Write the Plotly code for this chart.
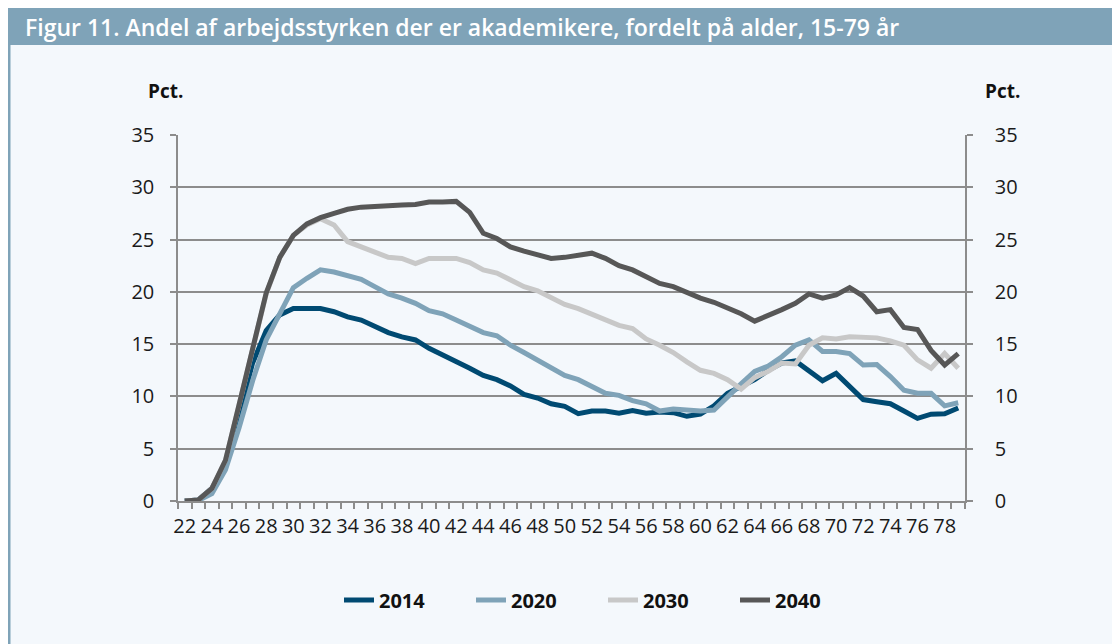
import plotly.graph_objects as go

ages = list(range(22, 80))

v2014 = [0.0, 0.1, 1.2, 3.5, 8.2, 13.2, 16.3, 17.8, 18.4, 18.4, 18.4, 18.1, 17.6, 17.3, 16.7, 16.1,
         15.7, 15.4, 14.6, 14.0, 13.4, 12.7, 12.0, 11.6, 11.0, 10.2, 9.85, 9.3, 9.05, 8.35, 8.6, 8.6,
         8.4, 8.65, 8.4, 8.5, 8.45, 8.1, 8.3, 9.1, 10.3, 11.0, 11.6, 12.5, 13.2, 13.4, 12.5, 11.5,
         12.2, 11.0, 9.7, 9.5, 9.3, 8.6, 7.9, 8.3, 8.35, 8.9]

v2020 = [0.0, 0.05, 0.7, 3.0, 7.0, 11.5, 15.4, 17.9, 20.4, 21.3, 22.1, 21.9, 21.6, 21.2, 20.5, 19.8,
         19.4, 18.9, 18.2, 17.9, 17.3, 16.7, 16.1, 15.8, 14.9, 14.2, 13.5, 12.7, 12.0, 11.6, 11.0, 10.3,
         10.1, 9.6, 9.3, 8.6, 8.8, 8.7, 8.6, 8.7, 10.0, 11.2, 12.4, 12.9, 13.8, 14.9, 15.4, 14.3,
         14.3, 14.1, 13.0, 13.05, 11.9, 10.6, 10.3, 10.3, 9.1, 9.4]

v2030 = [0.0, 0.1, 1.2, 3.9, 9.2, 14.6, 19.8, 23.3, 25.4, 26.4, 27.0, 26.4, 24.8, 24.3, 23.8, 23.3,
         23.2, 22.7, 23.2, 23.2, 23.2, 22.8, 22.1, 21.8, 21.1, 20.5, 20.1, 19.5, 18.8, 18.4, 17.9, 17.3,
         16.8, 16.5, 15.5, 14.9, 14.2, 13.3, 12.5, 12.2, 11.6, 10.7, 11.8, 12.4, 13.2, 13.1, 14.9, 15.6,
         15.5, 15.7, 15.7, 15.6, 15.3, 14.9, 13.5, 12.7, 14.1, 12.7]

v2040 = [0.0, 0.1, 1.2, 3.9, 9.2, 14.8, 19.9, 23.3, 25.4, 26.5, 27.1, 27.5, 27.9, 28.1, 28.2, 28.2,
         28.3, 28.35, 28.6, 28.6, 28.65, 27.6, 25.6, 25.1, 24.3, 23.9, 23.6, 23.2, 23.3, 23.5, 23.7, 23.2,
         22.5, 22.1, 21.4, 20.8, 20.5, 19.9, 19.4, 19.0, 18.5, 17.9, 17.2, 17.7, 18.3, 18.9, 19.8, 19.4,
         19.7, 20.4, 19.6, 18.1, 18.3, 16.6, 16.4, 14.4, 13.0, 14.1]

series_names = ["2014", "2020", "2030", "2040"]
series_values = [v2014, v2020, v2030, v2040]
series_colors = ["#004a72", "#7fa3b8", "#c8c8c8", "#575757"]

x_tick_labels = [str(a) for a in ages if a % 2 == 0]
y_ticks = [0, 5, 10, 15, 20, 25, 30, 35]

title_text = "Figur 11. Andel af arbejdsstyrken der er akademikere, fordelt på alder, 15-79 år"

# the page body adds an 8 px margin, so the figure is laid out 8 px smaller
W, H = 1112, 636
L, R, T, B = 170, 957, 127, 493  # plot area pixel box (figure coordinates)


def px(x):
    return (x - L) / (R - L)


def py(y):
    return (B - y) / (B - T)


fig = go.Figure()
for name, vals, col in zip(series_names, series_values, series_colors):
    fig.add_trace(go.Scatter(x=ages, y=vals, mode="lines", name=name,
                             line=dict(color=col, width=5), yaxis="y"))
# invisible trace for the right axis
fig.add_trace(go.Scatter(x=ages, y=v2014, mode="lines", yaxis="y2", showlegend=False,
                         line=dict(width=0), hoverinfo="skip", opacity=0))

font_main = "Open Sans"
grid_col = "#8c8c8c"
txt_col = "#1a1a1a"

fig.update_layout(
    width=W, height=H,
    margin=dict(l=L, r=W - R, t=T, b=H - B, pad=0),
    paper_bgcolor="#f4f8fc",
    plot_bgcolor="#f4f8fc",
    font=dict(family=font_main, size=20, color=txt_col),
    showlegend=True,
    legend=dict(orientation="h", x=px(331), xanchor="left", y=py(592), yanchor="middle",
                font=dict(family=font_main, size=20, color="#111111", weight="bold"),
                bgcolor="rgba(0,0,0,0)", traceorder="normal", itemwidth=30,
                entrywidth=87, entrywidthmode="pixels"),
    xaxis=dict(
        range=[21.5, 79.5], tickmode="array",
        tickvals=[a for a in ages if a % 2 == 0], ticktext=x_tick_labels,
        ticks="", showgrid=False, zeroline=False,
        showline=True, linecolor=grid_col, linewidth=1.5,
        ticklabelstandoff=6,
        tickfont=dict(family=font_main, size=20, color=txt_col),
        minor=dict(ticks="outside", ticklen=6, tickcolor=grid_col, tickwidth=1.5,
                   tick0=21.5, dtick=1, showgrid=False),
    ),
    yaxis=dict(
        range=[0, 35], tickmode="array", tickvals=y_ticks,
        ticks="outside", ticklen=6, tickcolor=grid_col, tickwidth=1.5,
        showgrid=True, gridcolor=grid_col, gridwidth=1.5,
        zeroline=False, showline=True, linecolor=grid_col, linewidth=1.5,
        ticklabelstandoff=12,
        tickfont=dict(family=font_main, size=20, color=txt_col),
    ),
    yaxis2=dict(
        range=[0, 35], tickmode="array", tickvals=y_ticks, overlaying="y", side="right",
        ticks="outside", ticklen=6, tickcolor=grid_col, tickwidth=1.5,
        showgrid=False, zeroline=False, showline=True, linecolor=grid_col, linewidth=1.5,
        ticklabelstandoff=18,
        tickfont=dict(family=font_main, size=20, color=txt_col),
    ),
    shapes=[
        # title bar
        dict(type="rect", xref="paper", yref="paper", x0=px(-2), x1=px(W + 2), y0=py(37), y1=py(-2),
             fillcolor="#7fa3b8", line=dict(width=0), layer="below"),
        # left border
        dict(type="rect", xref="paper", yref="paper", x0=px(-2), x1=px(2.5), y0=py(H + 2), y1=py(37),
             fillcolor="#7fa3b8", line=dict(width=0), layer="below"),
    ],
    annotations=[
        dict(text=title_text, xref="paper", yref="paper", x=px(15), y=py(19),
             xanchor="left", yanchor="middle", showarrow=False,
             font=dict(family=font_main, size=23, color="white", weight=600)),
        dict(text="Pct.", xref="paper", yref="paper", x=px(157), y=py(83),
             xanchor="center", yanchor="middle", showarrow=False,
             font=dict(family=font_main, size=19, color="#111111", weight="bold")),
        dict(text="Pct.", xref="paper", yref="paper", x=px(995), y=py(83),
             xanchor="center", yanchor="middle", showarrow=False,
             font=dict(family=font_main, size=19, color="#111111", weight="bold")),
    ],
)

fig.write_html("out.html")
